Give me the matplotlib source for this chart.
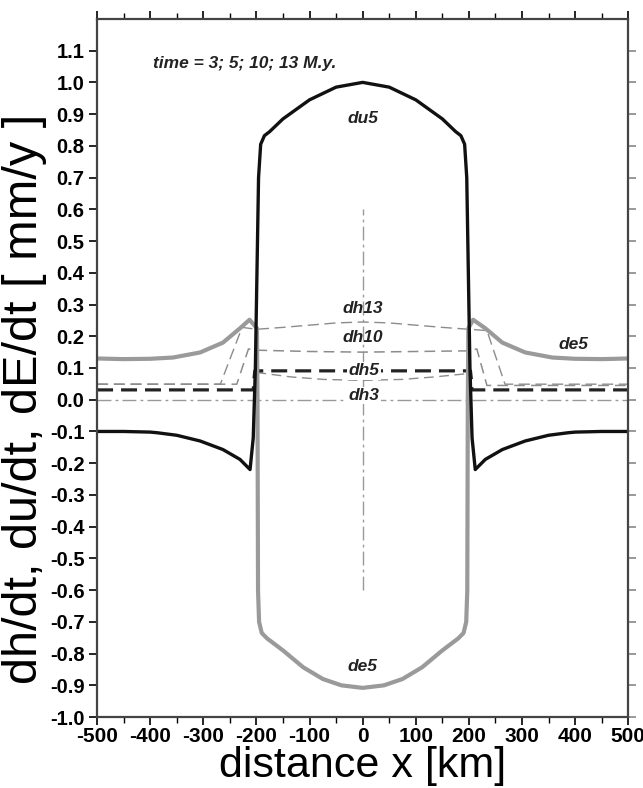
import matplotlib
matplotlib.use("Agg")
import matplotlib.pyplot as plt
import numpy as np
from matplotlib.ticker import MultipleLocator

# --- data (x in km, rates in mm/y) ---
x_du5 = [-500, -450, -400, -387, -350, -306, -263, -231, -212, -206, -202, -199, -196, -192, -185, -175,
         -150, -100, -50, 0, 50, 100, 150, 175, 185, 192, 196, 199, 202, 206, 212, 231, 263, 306, 350,
         387, 400, 450, 500]
du5 = [-0.100, -0.100, -0.102, -0.104, -0.112, -0.130, -0.157, -0.188, -0.220, -0.120, 0.100, 0.400,
       0.700, 0.805, 0.832, 0.845, 0.885, 0.945, 0.985, 1.000, 0.985, 0.945, 0.885, 0.845, 0.832, 0.805,
       0.700, 0.400, 0.100, -0.120, -0.220, -0.188, -0.157, -0.130, -0.112, -0.104, -0.102, -0.100, -0.100]

x_de5 = [-500, -451, -400, -357, -306, -263, -231, -213, -199, -198, -197, -195, -190, -180, -150,
         -112, -75, -40, 0, 40, 75, 112, 150, 180, 190, 195, 197, 198, 199, 208, 231, 263, 306, 357,
         400, 451, 500]
de5 = [0.130, 0.128, 0.129, 0.133, 0.149, 0.180, 0.225, 0.252, 0.225, 0.000, -0.600, -0.700, -0.735,
       -0.752, -0.790, -0.843, -0.880, -0.900, -0.908, -0.900, -0.880, -0.843, -0.790, -0.752, -0.735,
       -0.700, -0.600, 0.000, 0.225, 0.252, 0.225, 0.180, 0.149, 0.133, 0.129, 0.128, 0.130]

x_dh13 = [-500, -268, -227, -200, -150, -100, -50, 0, 50, 100, 150, 200, 234, 268, 500]
dh13 = [0.049, 0.049, 0.228, 0.222, 0.228, 0.235, 0.242, 0.245, 0.242, 0.235, 0.228, 0.222, 0.218, 0.049, 0.049]

x_dh10 = [-500, -237, -215, -197, -100, 0, 100, 196, 215, 234, 500]
dh10 = [0.049, 0.049, 0.160, 0.156, 0.152, 0.150, 0.152, 0.154, 0.160, 0.045, 0.045]

x_dh5 = [-500, -206, -205, -203, 0, 203, 205, 206, 500]
dh5 = [0.031, 0.031, 0.060, 0.091, 0.091, 0.091, 0.060, 0.031, 0.031]

x_dh5i = [-200, -136, -74, 0, 74, 136, 196]
dh5i = [0.086, 0.072, 0.064, 0.061, 0.064, 0.072, 0.082]

x_dh3 = [-500, 500]
dh3 = [0.0, 0.0]

x_axis_line = [0, 0]
y_axis_line = [-0.6, 0.6]

xticks = [-500, -400, -300, -200, -100, 0, 100, 200, 300, 400, 500]
yticks = [-1.0, -0.9, -0.8, -0.7, -0.6, -0.5, -0.4, -0.3, -0.2, -0.1, 0.0,
          0.1, 0.2, 0.3, 0.4, 0.5, 0.6, 0.7, 0.8, 0.9, 1.0, 1.1]
ytick_labels = ["-1.0", "-0.9", "-0.8", "-0.7", "-0.6", "-0.5", "-0.4", "-0.3", "-0.2", "-0.1", "0.0",
                "0.1", "0.2", "0.3", "0.4", "0.5", "0.6", "0.7", "0.8", "0.9", "1.0", "1.1"]

labels = [("time = 3; 5; 10; 13 M.y.", -394, 1.06, "left"),
          ("du5", 0, 0.885, "center"),
          ("dh13", 0, 0.287, "center"),
          ("dh10", 0, 0.196, "center"),
          ("de5", 397, 0.175, "center"),
          ("de5", 0, -0.84, "center")]
boxed_labels = [("dh5", 2, 0.091), ("dh3", 2, 0.013)]

plt.rcParams['font.family'] = ['Liberation Sans', 'DejaVu Sans']
plt.rcParams['axes.unicode_minus'] = False

fig = plt.figure(figsize=(6.43, 7.88), dpi=100)
ax = fig.add_axes([0.151, 0.090, 0.826, 0.886])

gray = '#9a9a9a'
ax.plot(x_dh3, dh3, color='#999999', lw=1.0, dashes=(10, 3, 2, 3))
ax.plot(x_axis_line, y_axis_line, color='#999999', lw=1.0, dashes=(10, 3, 2, 3))
ax.plot(x_dh13, dh13, color='#8c8c8c', lw=1.0, dashes=(8, 4))
ax.plot(x_dh10, dh10, color='#8c8c8c', lw=1.1, dashes=(7, 4))
ax.plot(x_dh5i, dh5i, color='#8c8c8c', lw=1.0, dashes=(7, 4))
ax.plot(x_dh5, dh5, color='#222222', lw=2.3, dashes=(5, 2.5))
ax.plot(x_de5, de5, color=gray, lw=3.0, solid_joinstyle='round')
ax.plot(x_du5, du5, color='#111111', lw=2.4, solid_joinstyle='round')

for txt, xx, yy, ha in labels:
    ax.text(xx, yy, txt, ha=ha, va='center', fontsize=12.5, fontweight='bold', style='italic', color='#222222')
for txt, xx, yy in boxed_labels:
    ax.text(xx, yy, txt, ha='center', va='center', fontsize=12.5, fontweight='bold', style='italic',
            color='#222222', bbox=dict(facecolor='white', edgecolor='none', pad=1))

ax.set_xlim(-500, 500)
ax.set_ylim(-1.0, 1.2)
ax.set_xticks(xticks)
ax.xaxis.set_minor_locator(MultipleLocator(50))
ax.set_yticks(yticks)
ax.set_yticklabels(ytick_labels)

ax.tick_params(axis='both', which='major', direction='out', length=6, width=1.2, labelsize=14.5,
               top=True, right=False, pad=3)
ax.tick_params(axis='x', which='major', labelsize=15, pad=1.5)
ax.tick_params(axis='x', which='minor', direction='out', length=4, width=1, top=True)
for lab in ax.get_xticklabels() + ax.get_yticklabels():
    lab.set_fontweight('bold')

# gray ticks on the right side
sec = ax.secondary_yaxis('right')
sec.set_yticks(yticks)
sec.set_yticklabels([])
sec.tick_params(direction='out', length=6, width=1.2, color='#888888')
sec.spines['right'].set_visible(False)

for s in ax.spines.values():
    s.set_color('#444444')
    s.set_linewidth(1.6)

ax.set_xlabel("distance x [km]", fontsize=31, labelpad=0)
ax.set_ylabel("dh/dt, du/dt, dE/dt [ mm/y ]", fontsize=35)
ax.yaxis.set_label_coords(-0.094, 0.456)

fig.savefig("out.png", dpi=100)
